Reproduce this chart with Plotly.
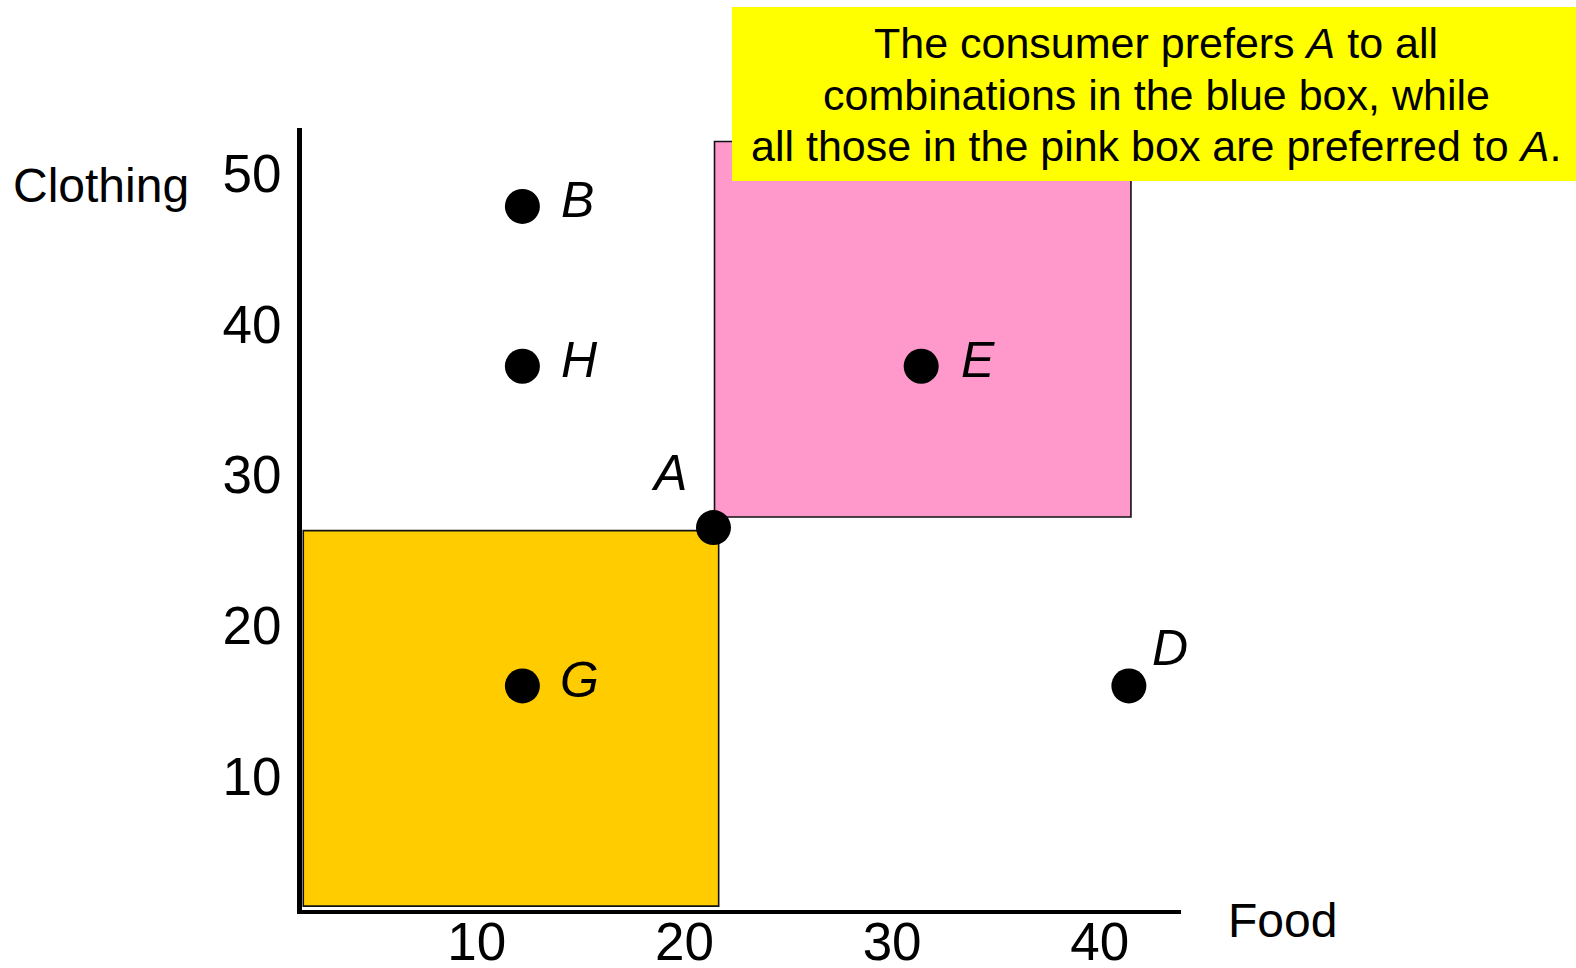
import plotly.graph_objects as go

# Market baskets (food, clothing) and their labels
basket_labels = ["B", "H", "A", "E", "G", "D"]
food = [12.2, 12.2, 21.4, 31.4, 12.2, 41.4]
clothing = [47.8, 37.2, 26.5, 37.2, 16.0, 16.0]

# Regions relative to basket A: the lower-left box (A preferred) and upper-right box (preferred to A)
worse_box_food = [1.65, 21.65]
worse_box_clothing = [1.4, 26.3]
better_box_food = [21.45, 41.5]
better_box_clothing = [27.2, 52.1]

x_ticks = [10, 20, 30, 40]
y_ticks = [10, 20, 30, 40, 50]

callout_lines = [
    "The consumer prefers <i>A</i> to all",
    "combinations in the blue box, while",
    "all those in the pink box are preferred to <i>A</i>.",
]

# Label offsets in pixels from each point (dx, dy), dy positive = up
label_offsets = {"B": (55, 6), "H": (57, 6), "A": (-44, 55), "E": (57, 6), "G": (57, 6), "D": (41, 38)}

W, H = 1576, 968
L, R, T, B = 302, 395, 128, 58
PW, PH = W - L - R, H - T - B


def px_x(p):
    return (p - L) / PW


def px_y(p):
    return (H - B - p) / PH


FONT = "Liberation Sans, Arial, sans-serif"

fig = go.Figure()

fig.add_trace(go.Scatter(
    x=food, y=clothing, mode="markers",
    marker=dict(size=35, color="black"),
    hoverinfo="skip", showlegend=False,
))

shapes = [
    dict(type="rect", xref="x", yref="y", layer="below",
         x0=worse_box_food[0], x1=worse_box_food[1],
         y0=worse_box_clothing[0], y1=worse_box_clothing[1],
         fillcolor="#FFCC00", line=dict(color="#111111", width=1.6)),
    dict(type="rect", xref="x", yref="y", layer="below",
         x0=better_box_food[0], x1=better_box_food[1],
         y0=better_box_clothing[0], y1=better_box_clothing[1],
         fillcolor="#FF99CC", line=dict(color="#111111", width=1.6)),
    dict(type="rect", xref="paper", yref="paper", layer="above",
         x0=px_x(732), x1=px_x(1580), y0=px_y(181), y1=px_y(7),
         fillcolor="#FFFF00", line=dict(width=0)),
]

annotations = []
for lab, fx, cy in zip(basket_labels, food, clothing):
    dx, dy = label_offsets[lab]
    annotations.append(dict(
        x=fx, y=cy, xref="x", yref="y", text=f"<i>{lab}</i>", showarrow=False,
        xanchor="center", yanchor="middle", xshift=dx, yshift=dy,
        font=dict(family=FONT, size=50, color="black"),
    ))

for line, cy in zip(callout_lines, [43, 95, 146]):
    annotations.append(dict(
        x=px_x(1156), y=px_y(cy), xref="paper", yref="paper", text=line,
        showarrow=False, xanchor="center", yanchor="middle",
        font=dict(family=FONT, size=43, color="black"),
    ))

annotations.append(dict(
    x=px_x(11), y=px_y(185), xref="paper", yref="paper", text="Clothing",
    showarrow=False, xanchor="left", yanchor="middle",
    font=dict(family=FONT, size=48, color="black"),
))
annotations.append(dict(
    x=px_x(1226), y=px_y(920), xref="paper", yref="paper", text="Food",
    showarrow=False, xanchor="left", yanchor="middle",
    font=dict(family=FONT, size=48, color="black"),
))

fig.update_layout(
    width=W, height=H,
    margin=dict(l=L, r=R, t=T, b=B, pad=0),
    paper_bgcolor="white", plot_bgcolor="white",
    shapes=shapes, annotations=annotations,
    font=dict(family=FONT, color="black"),
)

fig.update_xaxes(
    range=[(L - 269) / 20.77, (W - R - 269) / 20.77],
    tickvals=x_ticks, ticktext=[str(v) for v in x_ticks],
    showgrid=False, zeroline=False, automargin=False,
    showline=True, linecolor="black", linewidth=4,
    ticks="", ticklabelstandoff=-18,
    tickfont=dict(family=FONT, size=53, color="black"),
)
fig.update_yaxes(
    range=[30 - (H - B - 474.8) / 15.08, 30 + (474.8 - T) / 15.08],
    tickvals=y_ticks, ticktext=[str(v) for v in y_ticks],
    showgrid=False, zeroline=False, automargin=False,
    showline=True, linecolor="black", linewidth=5,
    ticks="", ticklabelstandoff=5,
    tickfont=dict(family=FONT, size=53, color="black"),
)

fig.write_html("out.html")
